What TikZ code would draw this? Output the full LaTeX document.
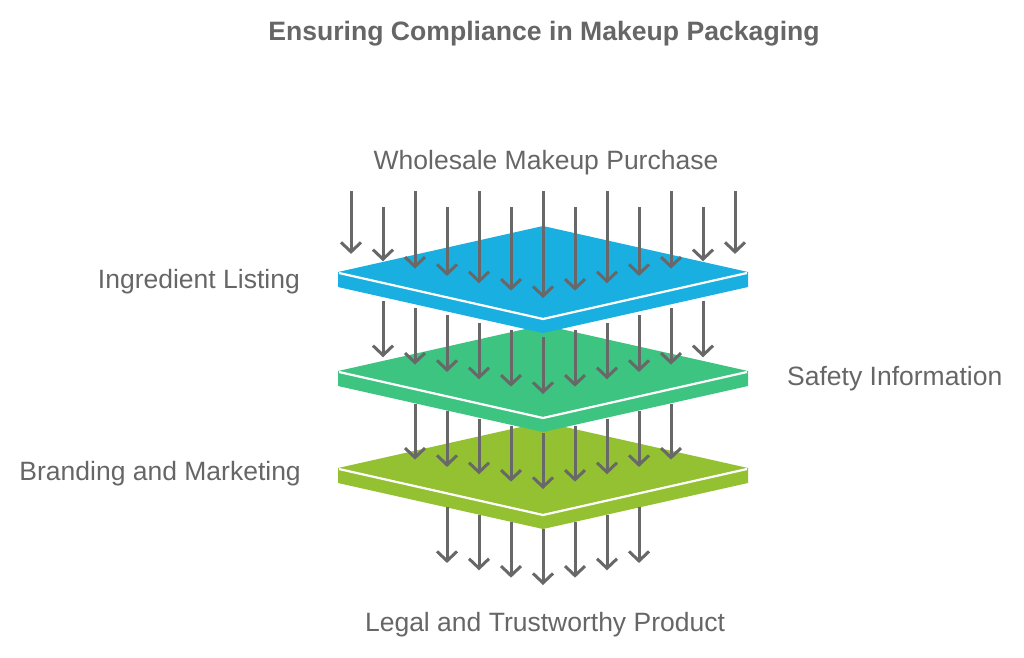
\documentclass[tikz,border=0pt]{standalone}
\usepackage{fontspec}
\setmainfont{Liberation Sans}
\usetikzlibrary{arrows.meta}
\definecolor{layerblue}{RGB}{25,175,225}
\definecolor{layergreen}{RGB}{60,196,128}
\definecolor{layerlime}{RGB}{148,193,50}
\definecolor{textgray}{RGB}{102,102,102}
\definecolor{arrowgray}{RGB}{104,104,104}
\tikzset{
  every node/.style={inner sep=0pt, text=textgray}
}

\begin{document}
\begin{tikzpicture}[x=1pt,y=-1pt]
  % Define styles for arrows and labels
  \tikzset{
    flow/.style={
      draw=arrowgray,
      line width=3pt,
      -{Straight Barb[length=9.5pt,width=20pt]}
    },
    caption/.style={
      font=\fontsize{26.5}{31}\selectfont
    }
  }
  \useasboundingbox (0,0) rectangle (1024,657);

  % Title
  \node[caption, font=\bfseries\fontsize{26.6}{31}\selectfont, anchor=base] (title) at (544,40) {Ensuring Compliance in Makeup Packaging};

  % Stacked layers, drawn from the bottom up
  \foreach \cy/\col in {468/layerlime, 371/layergreen, 272/layerblue} {
    \fill[\col] (338,\cy) -- (543,\cy+46) -- (748,\cy) -- (748,\cy+15) -- (543,\cy+61) -- (338,\cy+15) -- cycle;
    \fill[\col] (338,\cy) -- (543,\cy-46) -- (748,\cy) -- (543,\cy+46) -- cycle;
    \draw[white, line width=2.2pt] (339,\cy+1) -- (543,\cy+47) -- (747,\cy+1);
  }

  % Arrows falling onto the top layer
  \foreach \k in {-6,...,6} {
    \pgfmathsetmacro{\ys}{ifthenelse(mod(abs(\k),2)==1,207,191)}
    \draw[flow] ({543+32*\k},\ys) -- ({543+32*\k},{298-7.35*abs(\k)});
  }

  % Arrows passing through the lower layers
  \foreach \m/\ys/\ye in {5/337/394, 4/433/489, 3/529/585} {
    \foreach \k in {-\m,...,\m} {
      \draw[flow] ({543+32*\k},{\ys-7.25*abs(\k)}) -- ({543+32*\k},{\ye-7.35*abs(\k)});
    }
  }

  % Labels
  \node[caption, anchor=base] (source) at (546,169) {Wholesale Makeup Purchase};
  \node[caption, anchor=base east] (ingredient) at (300,288) {Ingredient Listing};
  \node[caption, anchor=base west] (safety) at (787,385) {Safety Information};
  \node[caption, anchor=base east] (branding) at (301,480) {Branding and Marketing};
  \node[caption, anchor=base] (product) at (545,631) {Legal and Trustworthy Product};
\end{tikzpicture}
\end{document}
